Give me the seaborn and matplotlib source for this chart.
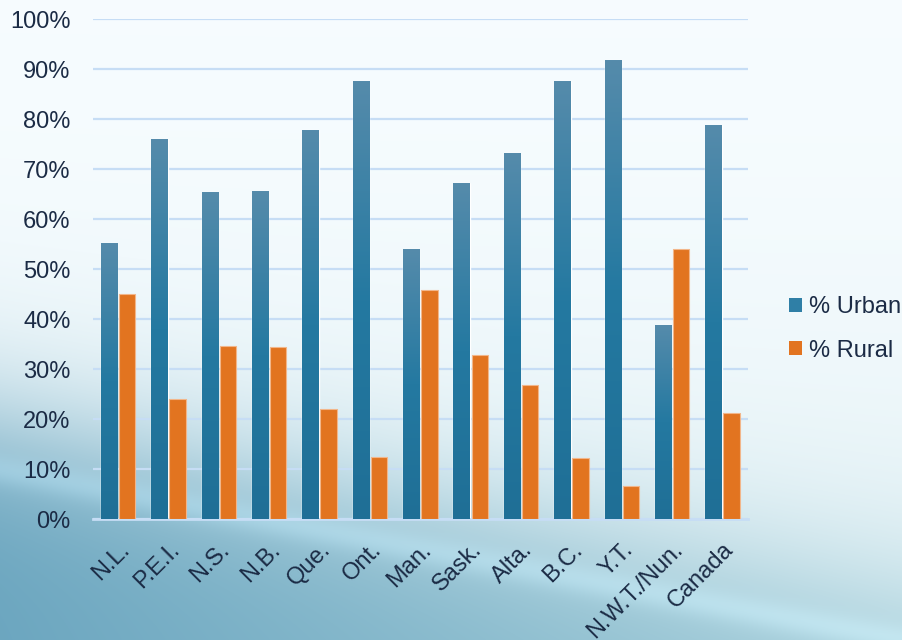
import numpy as np
import pandas as pd
import matplotlib
matplotlib.use("Agg")
import matplotlib.pyplot as plt
import seaborn as sns
from matplotlib.colors import LinearSegmentedColormap
from matplotlib.patches import Patch

regions = ["N.L.", "P.E.I.", "N.S.", "N.B.", "Que.", "Ont.", "Man.", "Sask.",
           "Alta.", "B.C.", "Y.T.", "N.W.T./Nun.", "Canada"]
urban = [55.2, 76.0, 65.4, 65.6, 77.8, 87.6, 54.0, 67.2, 73.2, 87.6, 91.8, 38.8, 78.8]
rural = [45.0, 24.1, 34.7, 34.5, 22.1, 12.5, 45.9, 32.9, 26.9, 12.3, 6.7, 54.1, 21.3]
series = ["% Urban", "% Rural"]
yticks = [0, 10, 20, 30, 40, 50, 60, 70, 80, 90, 100]

df = pd.DataFrame({
    "region": regions * 2,
    "series": [series[0]] * len(regions) + [series[1]] * len(regions),
    "value": urban + rural,
})

sns.set_theme(style="white")
plt.rcParams["font.family"] = ["Liberation Sans", "DejaVu Sans"]
text_color = "#1b2b45"
fs = 17

fig = plt.figure(figsize=(9.02, 6.4), dpi=100)

# background
H, W = 640, 902
yy, xx = np.mgrid[0:H, 0:W].astype(float)
top = np.array([0.965, 0.988, 0.998])
mid = np.array([0.88, 0.94, 0.955])
t = np.clip(yy / H, 0, 1)
img = top[None, None, :] * (1 - t[..., None] ** 2) + mid[None, None, :] * (t[..., None] ** 2)
curve = 430 + (xx / W) * 170
s = 1 / (1 + np.exp(-(yy - curve) / 45))
dark_l = np.array([0.42, 0.65, 0.75])
dark_r = np.array([0.63, 0.80, 0.85])
u = (xx / W)[..., None]
dark = dark_l * (1 - u) + dark_r * u
img = img * (1 - s[..., None]) + dark * s[..., None]
curve2 = curve + 40
streak = np.exp(-((yy - curve2) / 15) ** 2) * 0.06
img = np.clip(img + streak[..., None], 0, 1)
bg = fig.add_axes([0, 0, 1, 1], zorder=-1)
bg.imshow(img, aspect="auto", extent=[0, 1, 0, 1])
bg.axis("off")

ax = fig.add_axes([0.103, 0.189, 0.726, 0.781])
ax.set_facecolor("none")
ax.yaxis.grid(True, color="#c6ddf5", linewidth=1.6, zorder=0)
ax.set_axisbelow(True)

sns.barplot(data=df, x="region", y="value", hue="series",
            palette=["#2f7fa6", "#e27420"], width=0.72, gap=0.1,
            ax=ax, legend=False, zorder=2, saturation=1)

cmap = LinearSegmentedColormap.from_list("u", ["#1f6f96", "#2479a1", "#558bab"])
grad = np.linspace(0, 1, 256).reshape(-1, 1)
for p in ax.containers[0]:
    x0, w, h = p.get_x(), p.get_width(), p.get_height()
    ax.imshow(grad, cmap=cmap, origin="lower", aspect="auto",
              extent=[x0, x0 + w, 0, h], zorder=3)
for p in ax.containers[1]:
    p.set_edgecolor("#f2b68a")
    p.set_linewidth(0.8)
    p.set_zorder(3)

ax.set_xlim(-0.5, len(regions) - 0.5)
ax.set_ylim(0, 100)
ax.set_yticks(yticks)
ax.set_yticklabels([f"{v}%" for v in yticks], fontsize=fs, color=text_color)
ax.tick_params(axis="y", length=0, pad=16)
ax.tick_params(axis="x", length=0, pad=14)
ax.set_xticks(range(len(regions)))
ax.set_xticklabels(regions, rotation=45, ha="right", va="top",
                   rotation_mode="anchor", fontsize=fs, color=text_color)
ax.set_xlabel("")
ax.set_ylabel("")
for side in ["top", "right", "left"]:
    ax.spines[side].set_visible(False)
ax.spines["bottom"].set_color("#c6ddf5")
ax.spines["bottom"].set_linewidth(2)

handles = [Patch(facecolor="#2f7fa6", edgecolor="none"),
           Patch(facecolor="#e27420", edgecolor="none")]
leg = fig.legend(handles, series, loc="center left", bbox_to_anchor=(0.851, 0.486),
                 frameon=False, fontsize=fs, handlelength=0.55, handleheight=0.55,
                 handletextpad=0.3, labelspacing=0.9, labelcolor=text_color)

fig.savefig("out.png", dpi=100)
